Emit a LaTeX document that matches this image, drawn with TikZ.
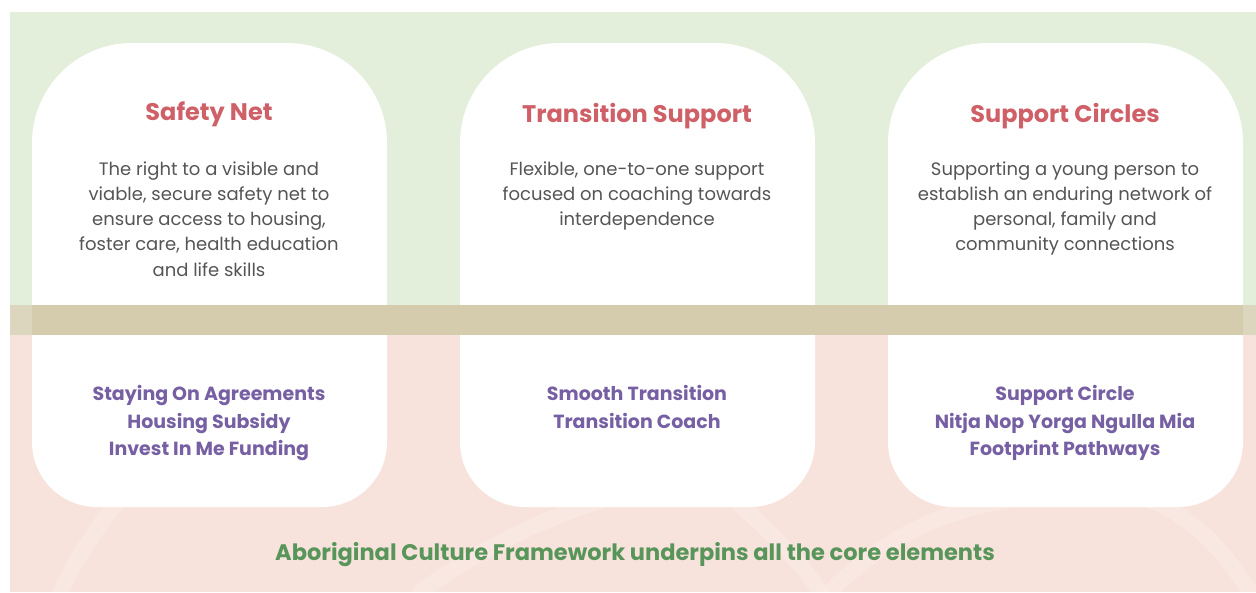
\documentclass[tikz,border=0pt]{standalone}
\usepackage{fontspec}
\setmainfont{Poppins}
\definecolor{bggreen}{HTML}{E3EEDB}
\definecolor{bgpink}{HTML}{F8E3DC}
\definecolor{bandtan}{HTML}{D5CCAD}
\definecolor{bandlight}{HTML}{DDD6BF}
\definecolor{titlered}{HTML}{CF6068}
\definecolor{bodygrey}{HTML}{555555}
\definecolor{itempurple}{HTML}{7660A3}
\definecolor{footgreen}{HTML}{58955A}
\tikzset{
  cardtitle/.style={text=titlered, font=\fontsize{24}{28}\selectfont\bfseries, anchor=center},
  cardbody/.style={text=bodygrey, font=\fontsize{18}{25.2}\selectfont, align=center, anchor=north},
  carditems/.style={text=itempurple, font=\fontsize{19}{27.5}\selectfont\bfseries, align=center, anchor=north},
  footer/.style={text=footgreen, font=\fontsize{22.5}{26}\selectfont\bfseries},
  streak/.style={white, opacity=0.15, line width=16pt, line cap=round}
}
% card outline: #1 left x, #2 right x
\newcommand\mycard[2]{%
  \fill[white] (#1,143) arc[start angle=180, end angle=270, radius=100]
    -- (#2-100,43) arc[start angle=270, end angle=360, radius=100]
    -- (#2,442) arc[start angle=0, end angle=90, radius=65]
    -- (#1+65,507) arc[start angle=90, end angle=180, radius=65] -- cycle;}
\begin{document}
\begin{tikzpicture}[x=1pt,y=-1pt]
\useasboundingbox (0,0) rectangle (1256,592);
\fill[white] (0,0) rectangle (1256,592);
% backgrounds
\fill[bggreen] (10,12) rectangle (1256,305);
\fill[bgpink] (10,335) rectangle (1256,592);
% faint streaks in pink
\draw[streak] (60,592) .. controls (120,470) and (200,420) .. (330,360);
\draw[streak] (420,592) .. controls (520,520) and (600,500) .. (700,470);
\draw[streak] (700,470) .. controls (760,520) and (800,560) .. (820,592);
\draw[streak] (830,592) .. controls (900,520) and (1000,480) .. (1150,500);
\draw[streak] (1150,500) .. controls (1200,520) and (1230,560) .. (1250,592);
% cards
\mycard{32}{387}
\mycard{460}{815}
\mycard{888}{1243}
% band
\fill[bandlight] (10,305) rectangle (1256,335);
\fill[bandtan] (32,305) rectangle (1243,335);
% card 1
\node[cardtitle] (t1) at (209,114) {Safety Net};
\node[cardbody] (b1) at (209,158) {The right to a visible and\\viable, secure safety net to\\ensure access to housing,\\foster care, health education\\and life skills};
\node[carditems] (i1) at (209,382) {Staying On Agreements\\Housing Subsidy\\Invest In Me Funding};
% card 2
\node[cardtitle] (t2) at (637,116) {Transition Support};
\node[cardbody] (b2) at (637,158) {Flexible, one-to-one support\\focused on coaching towards\\interdependence};
\node[carditems] (i2) at (637,382) {Smooth Transition\\Transition Coach};
% card 3
\node[cardtitle] (t3) at (1065,116) {Support Circles};
\node[cardbody] (b3) at (1065,158) {Supporting a young person to\\establish an enduring network of\\personal, family and\\community connections};
\node[carditems] (i3) at (1065,382) {Support Circle\\Nitja Nop Yorga Ngulla Mia\\Footprint Pathways};
% footer
\node[footer] (f) at (635,555) {Aboriginal Culture Framework underpins all the core elements};
\end{tikzpicture}
\end{document}
